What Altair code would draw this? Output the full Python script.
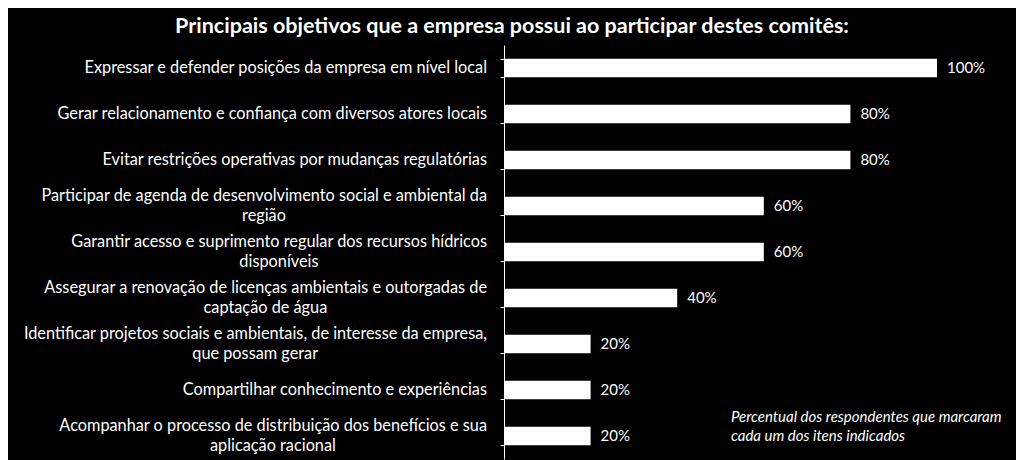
import os
import glob
import pandas as pd
import altair as alt

# ---------------- data ----------------
line1 = [
    "Expressar e defender posições da empresa em nível local",
    "Gerar relacionamento e confiança com diversos atores locais",
    "Evitar restrições operativas por mudanças regulatórias",
    "Participar de agenda de desenvolvimento social e ambiental da",
    "Garantir acesso e suprimento regular dos recursos hídricos",
    "Assegurar a renovação de licenças ambientais e outorgadas de",
    "Identificar projetos sociais e ambientais, de interesse da empresa,",
    "Compartilhar conhecimento e experiências",
    "Acompanhar o processo de distribuição dos benefícios e sua",
]
line2 = [
    "",
    "",
    "",
    "região",
    "disponíveis",
    "captação de água",
    "que possam gerar",
    "",
    "aplicação racional",
]
values = [100, 80, 80, 60, 60, 40, 20, 20, 20]
title_text = "Principais objetivos que a empresa possui ao participar destes comitês:"
note_lines = ["Percentual dos respondentes que marcaram", "cada um dos itens indicados"]

# ---------------- styles ----------------
FONT = "Lato"
LABEL_SIZE = 16.3
LABEL_X = -17  # right edge of labels relative to axis


def find_font(names):
    roots = ["/usr/share/fonts", "/usr/local/share/fonts",
             os.path.expanduser("~/.fonts"), os.path.expanduser("~/.local/share/fonts")]
    for n in names:
        for r in roots:
            hits = glob.glob(os.path.join(r, "**", n), recursive=True)
            if hits:
                return hits[0]
    return None


def approx_width(text, size):
    w = 0.0
    for ch in text:
        if ch in "iljtfr.,;:'|! ":
            w += 0.27
        elif ch in "mw":
            w += 0.80
        elif ch.isupper():
            w += 0.62
        else:
            w += 0.50
    return w * size * 0.92


def text_width(text, size):
    try:
        from PIL import ImageFont
        path = find_font(["Lato-Regular.ttf", "Lato-Reg*.ttf"])
        if path:
            f = ImageFont.truetype(path, 100)
            return f.getlength(text) * size / 100.0
    except Exception:
        pass
    return approx_width(text, size)


df = pd.DataFrame({
    "cat": line1,
    "l1": line1,
    "l2": line2,
    "v": values,
})
df["nlines"] = [2 if s else 1 for s in line2]
df["l2x"] = [LABEL_X - text_width(a, LABEL_SIZE) / 2.0 for a in line1]
df["vlabel"] = [f"{v}%" for v in values]

yscale = alt.Scale(domain=line1, paddingInner=0.6, paddingOuter=0.3)
xscale = alt.Scale(domain=[0, 100])
yaxis = alt.Axis(labels=False, title=None, domainColor="white", tickColor="white",
                 tickSize=4, tickBand="extent", domainWidth=1, tickWidth=1, grid=False)


def Y():
    return alt.Y("cat:N", sort=line1, scale=yscale, axis=yaxis)


base = alt.Chart(df)

bars = base.mark_bar(color="white").encode(
    y=Y(),
    x=alt.X("v:Q", scale=xscale, axis=None),
)

vals = base.mark_text(align="left", baseline="middle", dx=10, color="white",
                      font=FONT, fontSize=15).encode(
    y=Y(),
    x=alt.X("v:Q", scale=xscale, axis=None),
    text="vlabel:N",
)

single = base.transform_filter("datum.nlines == 1").mark_text(
    align="right", baseline="middle", color="white", font=FONT, fontSize=LABEL_SIZE
).encode(
    y=Y(),
    x=alt.value(LABEL_X),
    text="l1:N",
)

first = base.transform_filter("datum.nlines == 2").mark_text(
    align="right", baseline="middle", dy=-10, color="white", font=FONT, fontSize=LABEL_SIZE
).encode(
    y=Y(),
    x=alt.value(LABEL_X),
    text="l1:N",
)

second = base.transform_filter("datum.nlines == 2").mark_text(
    align="center", baseline="middle", dy=10, color="white", font=FONT, fontSize=LABEL_SIZE
).encode(
    y=Y(),
    x=alt.X("l2x:Q", scale=None),
    text="l2:N",
)

title = alt.Chart(pd.DataFrame({"t": [title_text]})).mark_text(
    align="center", baseline="alphabetic", color="white", font=FONT, fontSize=21.5, fontWeight="bold"
).encode(x=alt.value(8), y=alt.value(-12), text="t:N")

note = alt.Chart(pd.DataFrame({"t": ["\n".join(note_lines)]})).mark_text(
    align="left", baseline="middle", color="white", font=FONT, fontSize=15, fontStyle="italic",
    lineBreak="\n", lineHeight=19
).encode(x=alt.value(227), y=alt.value(372), text="t:N")

chart = alt.layer(bars, vals, single, first, second, title, note).properties(
    width=433,
    height=414,
    autosize=alt.AutoSizeParams(type="none"),
    padding={"left": 496, "top": 37, "right": 79, "bottom": 1},
    background="black",
).configure_view(stroke=None)

chart.save("out.html", embed_options={"renderer": "svg", "actions": False})
